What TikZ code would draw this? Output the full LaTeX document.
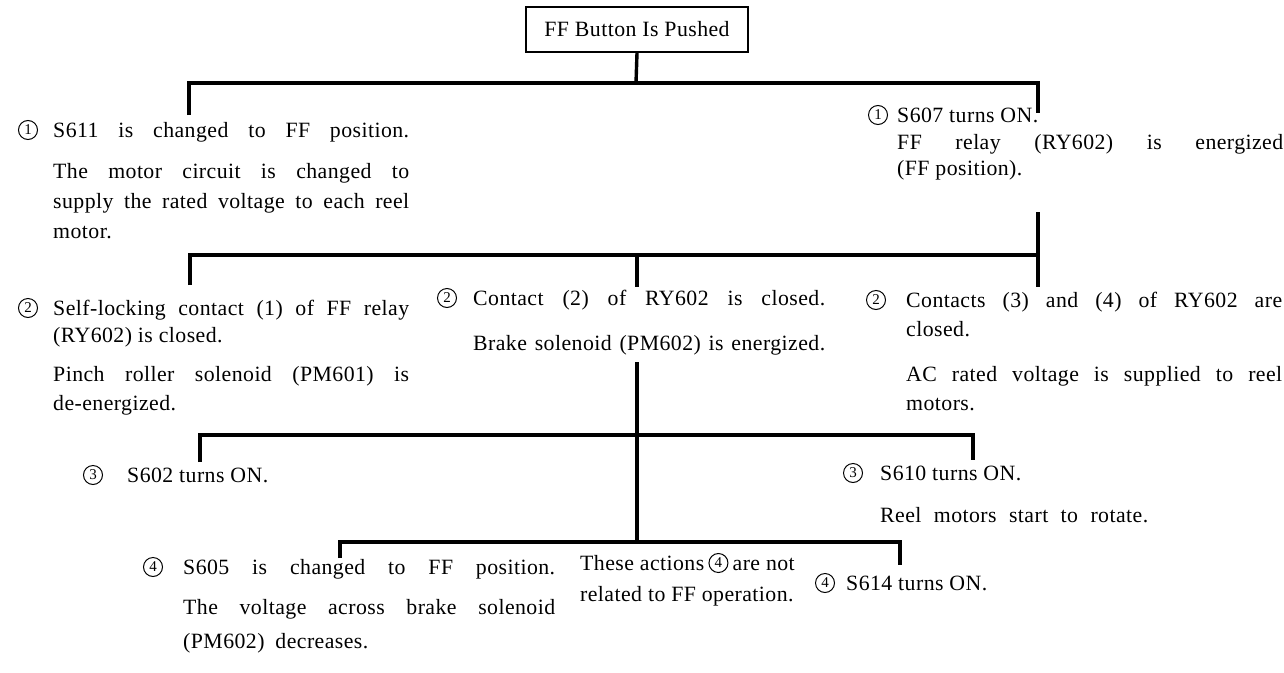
\documentclass[tikz,border=0pt]{standalone}
\usepackage{fontspec}
\setmainfont{Liberation Serif}[LetterSpace=2]
\usetikzlibrary{calc}
\newcommand\fs{\fontsize{21.8}{26}\selectfont}
\newcommand\jl[2]{\makebox[#1pt][s]{#2}}
\begin{document}
\begin{tikzpicture}[x=1pt,y=-1pt,
  txt/.style={anchor=base west, inner sep=0pt, font=\fs},
  cnum/.style={circle, draw, line width=1pt, minimum size=19pt, inner sep=0pt,
    font=\fontsize{15}{15}\selectfont},
  bus/.style={line width=3.4pt, line join=miter},
  topbox/.style={draw, line width=1.8pt, minimum width=222pt, minimum height=45pt,
    inner sep=0pt, font=\fs}]
\fill[white] (0,0) rectangle (1284,672);
\useasboundingbox (0,0) rectangle (1284,672);

% top box
\node[topbox] (top) at (637,29.5) {FF Button Is Pushed};

% row 1 left
\node[cnum] (c1L) at (28,130) {1};
\node[txt] (t1a) at (53,137) {\jl{356}{S611 is changed to FF position.}};
\node[txt] (t1b) at (53,178) {\jl{356}{The motor circuit is changed to}};
\node[txt] (t1c) at (53,208) {\jl{356}{supply the rated voltage to each reel}};
\node[txt] (t1d) at (53,238) {motor.};

% row 1 right
\node[cnum] (c1R) at (878,115) {1};
\node[txt] (t1e) at (897,122) {S607 turns ON.};
\node[txt] (t1f) at (897,149) {\jl{386}{FF relay (RY602) is energized}};
\node[txt] (t1g) at (897,175) {(FF position).};

% row 2 left
\node[cnum] (c2L) at (28,308) {2};
\node[txt] (t2a) at (53,315) {\jl{356}{Self-locking contact (1) of FF relay}};
\node[txt] (t2b) at (53,342) {(RY602) is closed.};
\node[txt] (t2c) at (53,381) {\jl{356}{Pinch roller solenoid (PM601) is}};
\node[txt] (t2d) at (53,410) {de-energized.};

% row 2 middle
\node[cnum] (c2M) at (447,298) {2};
\node[txt] (t2e) at (473,305) {\jl{352}{Contact (2) of RY602 is closed.}};
\node[txt] (t2f) at (473,350) {\jl{352}{Brake solenoid (PM602) is energized.}};

% row 2 right
\node[cnum] (c2R) at (876,300) {2};
\node[txt] (t2g) at (906,307) {\jl{376}{Contacts (3) and (4) of RY602 are}};
\node[txt] (t2h) at (906,336) {closed.};
\node[txt] (t2i) at (906,381) {\jl{376}{AC rated voltage is supplied to reel}};
\node[txt] (t2j) at (906,410) {motors.};

% row 3
\node[cnum] (c3L) at (93,475) {3};
\node[txt] (t3a) at (127,482) {S602 turns ON.};
\node[cnum] (c3R) at (853,473) {3};
\node[txt] (t3b) at (880,480) {S610 turns ON.};
\node[txt] (t3c) at (880,522) {\jl{268}{Reel motors start to rotate.}};

% row 4
\node[cnum] (c4L) at (153,567) {4};
\node[txt] (t4a) at (183,574) {\jl{372}{S605 is changed to FF position.}};
\node[txt] (t4b) at (183,614) {\jl{372}{The voltage across brake solenoid}};
\node[txt] (t4c) at (183,648) {(PM602)\hspace{0.5em}decreases.};

\node[txt] (t4n1) at (580,570) {These actions};
\node[cnum] (c4n) at ($(t4n1.base east)+(14,-7)$) {4};
\node[txt] (t4n2) at ($(c4n.center)+(14,7)$) {are not};
\node[txt] (t4n3) at (580,601) {related to FF operation.};

\node[cnum] (c4R) at (825,583) {4};
\node[txt] (t4r) at (846,590) {S614 turns ON.};

% bus coordinates
\coordinate (j0) at (636,83);
\coordinate (b1l) at (189,83);
\coordinate (b1r) at (1038,83);
\coordinate (d1l) at (189,115);
\coordinate (d1r) at (1038,113);
\coordinate (v1a) at (1038,212);
\coordinate (b2r) at (1038,255);
\coordinate (d2r) at (1038,287);
\coordinate (b2l) at (190,255);
\coordinate (d2l) at (190,285);
\coordinate (b2m) at (637,255);
\coordinate (d2m) at (637,287);
\coordinate (v2a) at (637,362);
\coordinate (b3l) at (200,435);
\coordinate (d3l) at (200,462);
\coordinate (b3r) at (973,435);
\coordinate (d3r) at (973,460);
\coordinate (b4m) at (637,542);
\coordinate (b4l) at (340,542);
\coordinate (d4l) at (340,558);
\coordinate (b4r) at (900,542);
\coordinate (d4r) at (900,565);

\draw[bus] (top.south) -- (j0);
\draw[bus] (d1l) -- (b1l) -- (b1r) -- (d1r);
\draw[bus] (v1a) -- (d2r);
\draw[bus] (d2l) -- (b2l) -- (b2r);
\draw[bus] (b2m) -- (d2m);
\draw[bus] (v2a) -- (b4m);
\draw[bus] (d3l) -- (b3l) -- (b3r) -- (d3r);
\draw[bus] (d4l) -- (b4l) -- (b4r) -- (d4r);
\end{tikzpicture}
\end{document}
